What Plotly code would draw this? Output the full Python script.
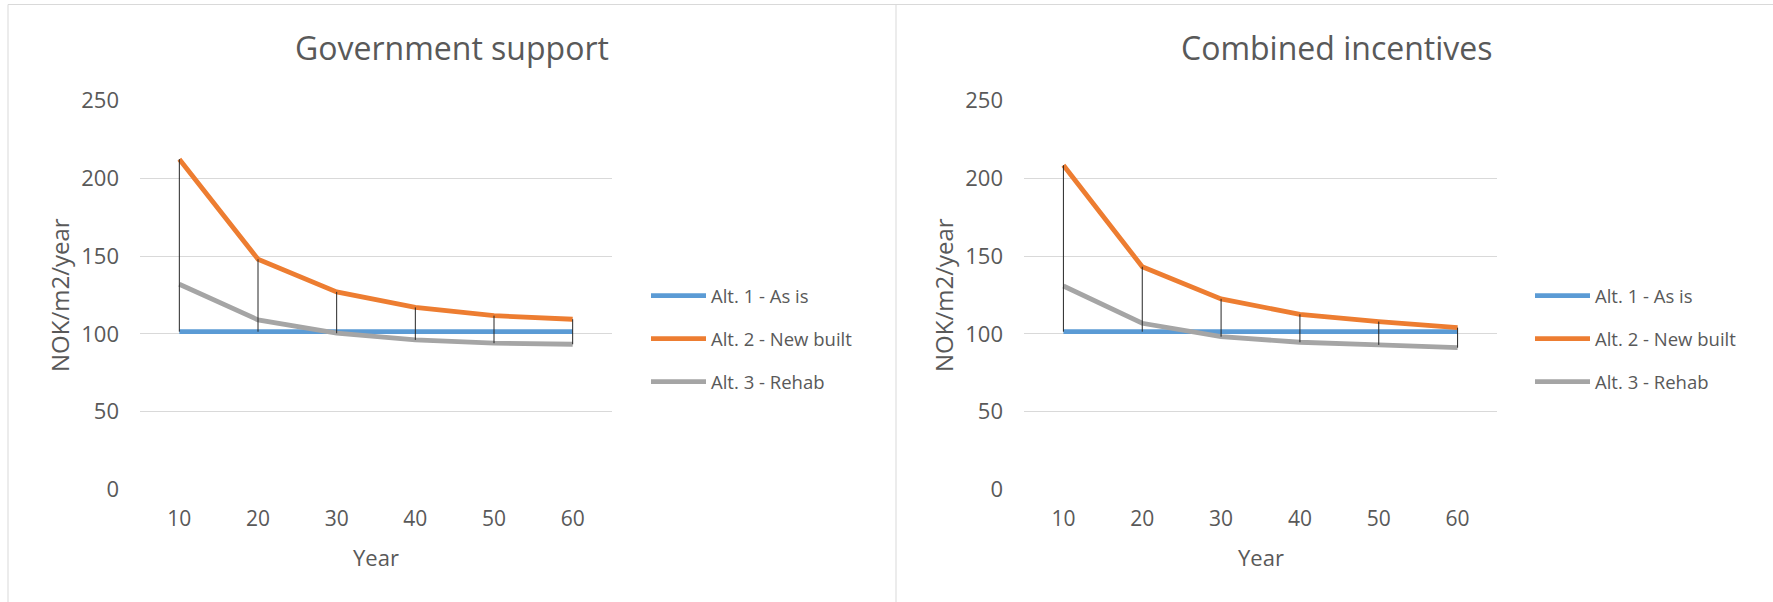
import plotly.graph_objects as go

# ---------------- data ----------------
years = ["10", "20", "30", "40", "50", "60"]
series_names = ["Alt. 1 - As is", "Alt. 2 - New built", "Alt. 3 - Rehab"]

gov_as_is = [101.4, 101.4, 101.4, 101.4, 101.4, 101.4]
gov_new_built = [212.4, 148.0, 127.0, 117.0, 111.7, 109.4]
gov_rehab = [131.9, 109.0, 100.4, 96.1, 94.0, 93.3]

comb_as_is = [101.4, 101.4, 101.4, 101.4, 101.4, 101.4]
comb_new_built = [208.5, 143.2, 122.5, 112.6, 107.9, 104.0]
comb_rehab = [130.8, 106.8, 98.2, 94.6, 92.9, 91.1]

titles = ["Government support", "Combined incentives"]
y_ticks = [0, 50, 100, 150, 200, 250]

# ---------------- style ----------------
W, H = 1773, 602
colors = ["#5B9BD5", "#ED7D31", "#A5A5A5"]
text_col = "#595959"
grid_col = "#D9D9D9"
FONT = "Open Sans"

def px_x(x):
    return x / W

def px_y(y):
    return (H - y) / H

fig = go.Figure()

panels = [
    dict(data=[gov_as_is, gov_new_built, gov_rehab], xa="x", ya="y", legend="legend",
         x0=140, x1=612, title_x=452.5, legend_x=646),
    dict(data=[comb_as_is, comb_new_built, comb_rehab], xa="x2", ya="y2", legend="legend2",
         x0=1024, x1=1497, title_x=1336.5, legend_x=1530),
]

for p in panels:
    for name, vals, col in zip(series_names, p["data"], colors):
        fig.add_trace(go.Scatter(
            x=years, y=vals, name=name, mode="lines",
            line=dict(color=col, width=4.8),
            xaxis=p["xa"], yaxis=p["ya"], legend=p["legend"],
            legendgroup=p["legend"] + name,
            hoverinfo="skip",
        ))
    # high-low lines
    hx, hy = [], []
    for i, yr in enumerate(years):
        vals = [s[i] for s in p["data"]]
        hx += [yr, yr, None]
        hy += [max(vals), min(vals), None]
    fig.add_trace(go.Scatter(
        x=hx, y=hy, mode="lines", line=dict(color="#262626", width=1),
        xaxis=p["xa"], yaxis=p["ya"], showlegend=False, hoverinfo="skip",
    ))

y_dom = [px_y(489.3), px_y(100.7)]

axis_common_x = dict(
    type="category", range=[-0.5, 5.5], showgrid=False, zeroline=False,
    showline=False, ticks="", tickfont=dict(family=FONT, size=21, color=text_col),
    ticklabelstandoff=15, automargin=False,
)
axis_common_y = dict(
    range=[0, 250], tickvals=y_ticks, showgrid=True, gridcolor=grid_col, gridwidth=1,
    zeroline=False, showline=False, ticks="",
    tickfont=dict(family=FONT, size=22, color=text_col),
    ticklabelstandoff=20, automargin=False,
)

layout = dict(
    template="none",
    width=W, height=H, autosize=False,
    margin=dict(l=0, r=0, t=0, b=0, pad=0, autoexpand=False),
    paper_bgcolor="white", plot_bgcolor="white",
    showlegend=True,
    font=dict(family=FONT, color=text_col),
    xaxis=dict(domain=[px_x(140), px_x(612)], anchor="y", **axis_common_x),
    yaxis=dict(domain=y_dom, anchor="x", **axis_common_y),
    xaxis2=dict(domain=[px_x(1024), px_x(1497)], anchor="y2", **axis_common_x),
    yaxis2=dict(domain=y_dom, anchor="x2", **axis_common_y),
)

annotations = []
shapes = []
for i, p in enumerate(panels):
    leg = dict(
        x=px_x(p["legend_x"]), y=px_y(277), xanchor="left", yanchor="top",
        font=dict(family=FONT, size=18.5, color=text_col),
        bgcolor="rgba(0,0,0,0)", tracegroupgap=16, itemwidth=55,
        traceorder="grouped",
    )
    layout[p["legend"]] = leg
    cx = (p["x0"] + p["x1"]) / 2
    annotations.append(dict(text=titles[i], x=px_x(p["title_x"]), y=px_y(48),
                            xref="paper", yref="paper", showarrow=False,
                            xanchor="center", yanchor="middle",
                            font=dict(family=FONT, size=32, color=text_col)))
    annotations.append(dict(text="Year", x=px_x(cx), y=px_y(557),
                            xref="paper", yref="paper", showarrow=False,
                            xanchor="center", yanchor="middle",
                            font=dict(family=FONT, size=22, color=text_col)))
    annotations.append(dict(text="NOK/m2/year", x=px_x(p["x0"] - 81), y=px_y(295),
                            xref="paper", yref="paper", showarrow=False, textangle=-90,
                            xanchor="center", yanchor="middle",
                            font=dict(family=FONT, size=24, color=text_col)))

# chart panel borders
shapes.append(dict(type="line", xref="paper", yref="paper", x0=px_x(8), x1=1,
                   y0=px_y(4.5), y1=px_y(4.5), line=dict(color=grid_col, width=1)))
shapes.append(dict(type="line", xref="paper", yref="paper", x0=px_x(8), x1=px_x(8),
                   y0=0, y1=px_y(4.5), line=dict(color=grid_col, width=1)))
shapes.append(dict(type="line", xref="paper", yref="paper", x0=px_x(896), x1=px_x(896),
                   y0=0, y1=px_y(4.5), line=dict(color=grid_col, width=1)))

layout["annotations"] = annotations
layout["shapes"] = shapes
fig.update_layout(**layout)

post = (
    "document.body.style.margin='0';"
    "document.body.style.overflow='hidden';"
)

fig.write_html(
    "out.html",
    config={"displayModeBar": False, "responsive": False},
    post_script=post,
)
